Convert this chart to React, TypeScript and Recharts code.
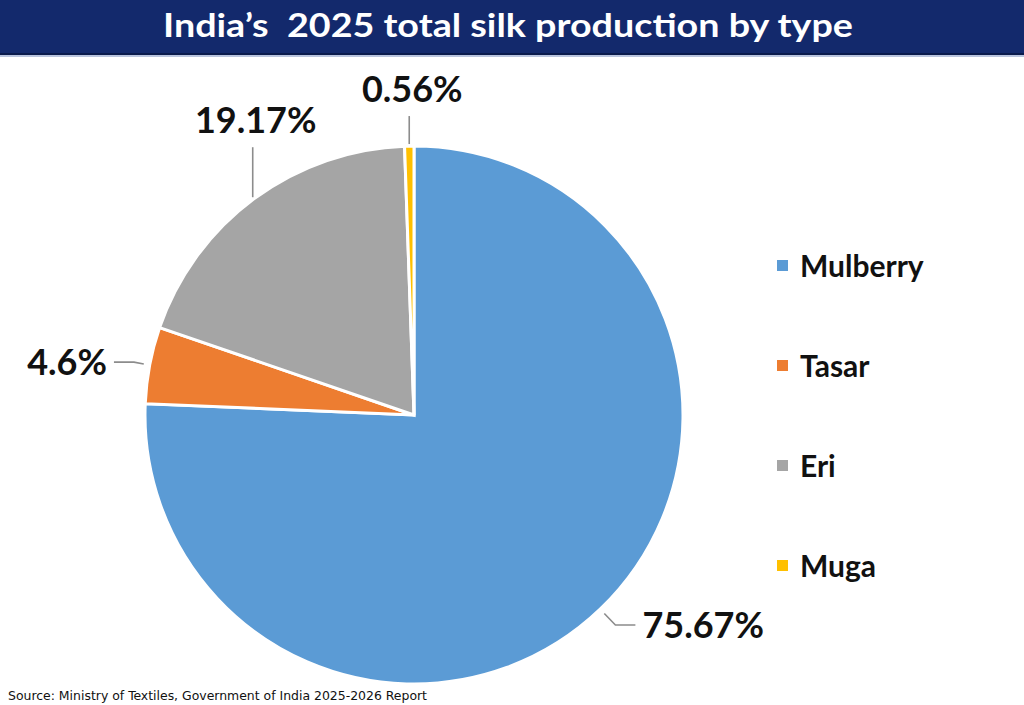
import React from "react";
import { PieChart, Pie, Cell } from "recharts";

const categories = ["Mulberry", "Tasar", "Eri", "Muga"];
const shares = [75.67, 4.6, 19.17, 0.56];
const colors = ["#5b9bd5", "#ed7d31", "#a5a5a5", "#ffc000"];
const titleText = "India\u2019s  2025 total silk production by type";
const sourceText = "Source: Ministry of Textiles, Government of India 2025-2026 Report";

const data = categories.map((name, i) => ({ name, value: shares[i] }));

// per-label leader line lengths (style only)
const leaderLen = [16, 10, 50, 28];
const leaderHoriz = [20, 20, 0, 0];

const FONT = "Lato, 'Open Sans', sans-serif";

function renderLabel(props: any) {
  const { cx, cy, midAngle, outerRadius, index } = props;
  const rad = (-midAngle * Math.PI) / 180;
  const cos = Math.cos(rad);
  const sin = Math.sin(rad);
  const text = `${shares[index]}%`;
  const sx = cx + (outerRadius + 2) * cos;
  const sy = cy + (outerRadius + 2) * sin;
  const lineStyle = { stroke: "#8c8c8c", strokeWidth: 1.6, fill: "none" };
  if (sin < -0.75) {
    const ey = sy - leaderLen[index];
    return (
      <g key={`lbl-${index}`}>
        <path d={`M${sx},${sy}L${sx},${ey}`} style={lineStyle} />
        <text
          x={sx + 3}
          y={ey - 14}
          textAnchor="middle"
          fontFamily={FONT}
          fontWeight={700}
          fontSize={36}
          fill="#111"
        >
          {text}
        </text>
      </g>
    );
  }
  const r1 = outerRadius + 6;
  const r2 = r1 + leaderLen[index];
  const x1 = cx + r1 * cos;
  const y1 = cy + r1 * sin;
  const x2 = cx + r2 * cos;
  const y2 = cy + r2 * sin;
  const dir = cos >= 0 ? 1 : -1;
  const x3 = x2 + dir * leaderHoriz[index];
  return (
    <g key={`lbl-${index}`}>
      <path d={`M${x1},${y1}L${x2},${y2}L${x3},${y2}`} style={lineStyle} />
      <text
        x={x3 + dir * 7}
        y={y2}
        dy="0.36em"
        textAnchor={dir > 0 ? "start" : "end"}
        fontFamily={FONT}
        fontWeight={700}
        fontSize={36}
        fill="#111"
      >
        {text}
      </text>
    </g>
  );
}

export default function App() {
  return (
    <div
      style={{
        position: "absolute",
        left: 0,
        top: 0,
        width: 1024,
        height: 705,
        background: "#fff",
        overflow: "hidden",
      }}
    >
      <svg
        width={1024}
        height={705}
        style={{ position: "absolute", left: 0, top: 0 }}
      >
        <rect x={0} y={0} width={1024} height={53} fill="#13296c" />
        <rect x={0} y={53} width={1024} height={2} fill="#0a1a4c" />
        <rect x={0} y={55} width={1024} height={2} fill="#b9c4de" />
        <text
          x={508}
          y={37}
          textAnchor="middle"
          fontFamily={FONT}
          fontWeight={700}
          fontSize={33}
          fill="#fff"
          textLength={690}
          lengthAdjust="spacingAndGlyphs"
          style={{ whiteSpace: "pre" }}
        >
          {titleText}
        </text>
        <text
          x={8}
          y={700}
          fontFamily="'Liberation Sans Narrow', 'DejaVu Sans Condensed', sans-serif"
          fontSize={13}
          fill="#111"
          textLength={419}
          lengthAdjust="spacingAndGlyphs"
        >
          {sourceText}
        </text>
      </svg>
      <div style={{ position: "absolute", left: 0, top: 0 }}>
        <PieChart
          width={1024}
          height={705}
          margin={{ top: 0, right: 0, bottom: 0, left: 0 }}
        >
          <Pie
            data={data}
            dataKey="value"
            nameKey="name"
            cx={414}
            cy={415}
            outerRadius={269}
            startAngle={90}
            endAngle={-270}
            stroke="#ffffff"
            strokeWidth={3}
            label={renderLabel}
            labelLine={false}
            isAnimationActive={false}
          >
            {data.map((d, i) => (
              <Cell key={d.name} fill={colors[i]} />
            ))}
          </Pie>
        </PieChart>
      </div>
      <div
        style={{
          position: "absolute",
          left: 777,
          top: 215,
          display: "flex",
          flexDirection: "column",
        }}
      >
        {categories.map((c, i) => (
          <div
            key={c}
            style={{
              height: 100,
              display: "flex",
              alignItems: "center",
            }}
          >
            <span
              style={{
                display: "inline-block",
                width: 11,
                height: 11,
                background: colors[i],
                marginRight: 12,
              }}
            />
            <span
              style={{
                fontFamily: FONT,
                fontWeight: 700,
                fontSize: 30,
                color: "#111",
              }}
            >
              {c}
            </span>
          </div>
        ))}
      </div>
    </div>
  );
}
